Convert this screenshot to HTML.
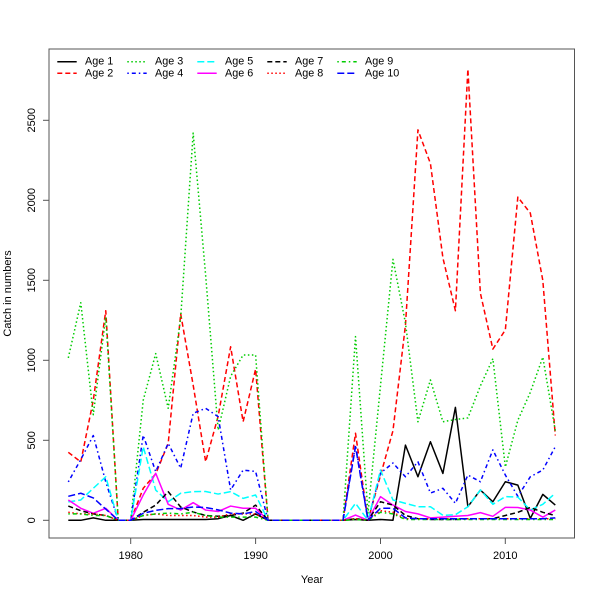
<!DOCTYPE html>
<html><head><meta charset="utf-8"><style>
html,body{margin:0;padding:0;background:#fff;}
svg{display:block;font-family:"Liberation Sans","DejaVu Sans",sans-serif;}
</style></head><body>
<svg width="600" height="600" viewBox="0 0 600 600" xmlns="http://www.w3.org/2000/svg">
<rect width="600" height="600" fill="#fff"/>
<g fill="none" stroke-width="1.5" stroke-linejoin="round" transform="translate(68.3,520.3) scale(12.487,-0.16)">
<polyline vector-effect="non-scaling-stroke" stroke="#000" points="0,0 1,0 2,15 3,0 4,0 5,0 6,5 7,5 8,5 9,5 10,5 11,5 12,10 13,30 14,0 15,40 16,0 22,0 23,5 24,0 25,5 26,0 27,470 28,272 29,491 30,293 31,706 32,85 33,189 34,116 35,241 36,220 37,12 38,162 39,95"/>
<polyline vector-effect="non-scaling-stroke" stroke="#f00" stroke-dasharray="5,3" points="0,425 1,365 2,750 3,1310 4,0 5,0 6,200 7,290 8,480 9,1290 10,845 11,366 12,650 13,1085 14,616 15,945 16,0 22,0 23,544 24,0 25,280 26,560 27,1220 28,2440 29,2230 30,1640 31,1310 32,2820 33,1420 34,1070 35,1190 36,2020 37,1920 38,1500 39,530"/>
<polyline vector-effect="non-scaling-stroke" stroke="#0c0" stroke-dasharray="1.5,2.5" points="0,1015 1,1360 2,660 3,1270 4,0 5,0 6,750 7,1042 8,700 9,1265 10,2420 11,1530 12,564 13,900 14,1033 15,1033 16,0 22,0 23,1148 24,45 25,840 26,1631 27,1233 28,616 29,877 30,616 31,630 32,640 33,840 34,1010 35,333 36,625 37,800 38,1020 39,560"/>
<polyline vector-effect="non-scaling-stroke" stroke="#00f" stroke-dasharray="1.5,3,4,3" points="0,240 1,380 2,530 3,240 4,0 5,0 6,532 7,304 8,481 9,325 10,669 11,700 12,648 13,190 14,314 15,305 16,0 22,0 23,470 24,0 25,295 26,358 27,272 28,366 29,170 30,200 31,106 32,283 33,241 34,440 35,283 36,150 37,272 38,314 39,460"/>
<polyline vector-effect="non-scaling-stroke" stroke="#0ff" stroke-dasharray="7,3" points="0,115 1,127 2,200 3,272 4,0 5,0 6,460 7,189 8,116 9,169 10,179 11,180 12,164 13,179 14,137 15,158 16,0 22,0 23,106 24,0 25,314 26,127 27,106 28,85 29,85 30,31 31,35 32,85 33,190 34,100 35,148 36,145 37,64 38,100 39,169"/>
<polyline vector-effect="non-scaling-stroke" stroke="#f0f" points="0,127 1,75 2,44 3,75 4,0 5,0 6,158 7,294 8,100 9,64 10,110 11,64 12,55 13,89 14,75 15,75 16,0 22,0 23,33 24,0 25,148 26,95 27,55 28,40 29,15 30,20 31,25 32,30 33,48 34,25 35,81 36,80 37,64 38,20 39,64"/>
<polyline vector-effect="non-scaling-stroke" stroke="#000" stroke-dasharray="5,3" points="0,89 1,60 2,40 3,30 4,0 5,0 6,50 7,95 8,179 9,83 10,52 11,30 12,25 13,30 14,45 15,95 16,0 22,0 23,10 24,0 25,116 26,95 27,30 28,10 29,5 30,5 31,5 32,10 33,10 34,10 35,30 36,50 37,80 38,50 39,30"/>
<polyline vector-effect="non-scaling-stroke" stroke="#f00" stroke-dasharray="1.5,2.5" points="0,50 1,40 2,40 3,30 4,0 5,0 6,30 7,40 8,30 9,30 10,30 11,20 12,20 13,40 14,40 15,40 16,0 22,0 23,10 24,0 25,60 26,50 27,10 28,10 29,10 30,10 31,10 32,10 33,10 34,10 35,10 36,10 37,10 38,10 39,10"/>
<polyline vector-effect="non-scaling-stroke" stroke="#0c0" stroke-dasharray="1.5,3,4,3" points="0,40 1,40 2,30 3,30 4,0 5,0 6,30 7,40 8,45 9,40 10,50 11,30 12,20 13,20 14,20 15,20 16,0 22,0 23,5 24,0 25,50 26,40 27,5 28,5 29,5 30,5 31,5 32,5 33,5 34,5 35,5 36,5 37,5 38,5 39,5"/>
<polyline vector-effect="non-scaling-stroke" stroke="#00f" stroke-dasharray="7,3" points="0,150 1,169 2,140 3,70 4,0 5,0 6,44 7,62 8,73 9,73 10,83 11,80 12,65 13,45 14,40 15,55 16,0 22,0 23,460 24,0 25,75 26,75 27,15 28,10 29,10 30,10 31,10 32,10 33,10 34,10 35,10 36,10 37,10 38,10 39,15"/>
</g>
<rect x="49" y="49" width="525.5" height="489" fill="none" stroke="#555" stroke-width="1"/>
<g stroke="#555" stroke-width="1">
<line x1="43" y1="520.3" x2="49" y2="520.3"/>
<line x1="43" y1="440.3" x2="49" y2="440.3"/>
<line x1="43" y1="360.3" x2="49" y2="360.3"/>
<line x1="43" y1="280.3" x2="49" y2="280.3"/>
<line x1="43" y1="200.3" x2="49" y2="200.3"/>
<line x1="43" y1="120.3" x2="49" y2="120.3"/>
<line x1="130.7" y1="538" x2="130.7" y2="544"/>
<line x1="255.6" y1="538" x2="255.6" y2="544"/>
<line x1="380.5" y1="538" x2="380.5" y2="544"/>
<line x1="505.3" y1="538" x2="505.3" y2="544"/>
</g>
<g font-size="11" fill="#000" text-anchor="middle" dominant-baseline="central">
<text transform="translate(32,520.3) rotate(-90)">0</text>
<text transform="translate(32,440.3) rotate(-90)">500</text>
<text transform="translate(32,360.3) rotate(-90)">1000</text>
<text transform="translate(32,280.3) rotate(-90)">1500</text>
<text transform="translate(32,200.3) rotate(-90)">2000</text>
<text transform="translate(32,120.3) rotate(-90)">2500</text>
<text x="130.7" y="556">1980</text>
<text x="255.6" y="556">1990</text>
<text x="380.5" y="556">2000</text>
<text x="505.3" y="556">2010</text>
<text x="312" y="580">Year</text>
<text transform="translate(8,293.5) rotate(-90)">Catch in numbers</text>
</g>
<g fill="none" stroke-width="1.5">
<line x1="57.3" y1="61.7" x2="76.7" y2="61.7" stroke="#000"/>
<line x1="57.3" y1="73.3" x2="76.7" y2="73.3" stroke="#f00" stroke-dasharray="5,3"/>
<line x1="127.3" y1="61.7" x2="146.7" y2="61.7" stroke="#0c0" stroke-dasharray="1.5,2.5"/>
<line x1="127.3" y1="73.3" x2="146.7" y2="73.3" stroke="#00f" stroke-dasharray="1.5,3,4,3"/>
<line x1="197.3" y1="61.7" x2="216.7" y2="61.7" stroke="#0ff" stroke-dasharray="7,3"/>
<line x1="197.3" y1="73.3" x2="216.7" y2="73.3" stroke="#f0f"/>
<line x1="267.3" y1="61.7" x2="286.7" y2="61.7" stroke="#000" stroke-dasharray="5,3"/>
<line x1="267.3" y1="73.3" x2="286.7" y2="73.3" stroke="#f00" stroke-dasharray="1.5,2.5"/>
<line x1="337.3" y1="61.7" x2="356.7" y2="61.7" stroke="#0c0" stroke-dasharray="1.5,3,4,3"/>
<line x1="337.3" y1="73.3" x2="356.7" y2="73.3" stroke="#00f" stroke-dasharray="7,3"/>
</g>
<g font-size="10.8" fill="#000" dominant-baseline="central">
<text x="85" y="61.7">Age 1</text>
<text x="85" y="73.3">Age 2</text>
<text x="155" y="61.7">Age 3</text>
<text x="155" y="73.3">Age 4</text>
<text x="225" y="61.7">Age 5</text>
<text x="225" y="73.3">Age 6</text>
<text x="295" y="61.7">Age 7</text>
<text x="295" y="73.3">Age 8</text>
<text x="365" y="61.7">Age 9</text>
<text x="365" y="73.3">Age 10</text>
</g>
</svg>
</body></html>
